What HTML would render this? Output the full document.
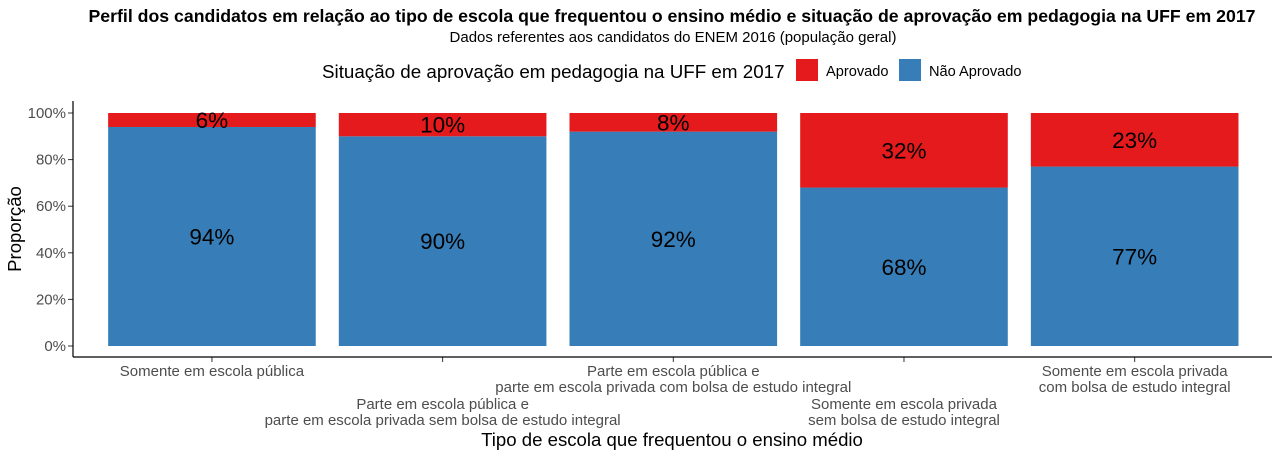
<!DOCTYPE html>
<html><head><meta charset="utf-8"><style>
body{margin:0;background:#fff;}
svg{display:block;font-family:"Liberation Sans",Arial,sans-serif;}
</style></head><body>
<svg id="chart" width="1280" height="457" viewBox="0 0 1280 457">
<text x="672" y="22" text-anchor="middle" font-size="17.5" font-weight="bold" fill="#000" textLength="1167" lengthAdjust="spacingAndGlyphs">Perfil dos candidatos em relação ao tipo de escola que frequentou o ensino médio e situação de aprovação em pedagogia na UFF em 2017</text>
<text x="673" y="42" text-anchor="middle" font-size="15" fill="#000">Dados referentes aos candidatos do ENEM 2016 (população geral)</text>
<g>
<text x="322" y="78" font-size="18.8" fill="#000">Situação de aprovação em pedagogia na UFF em 2017</text>
<rect x="796" y="59" width="22" height="22" fill="#E41A1C"/>
<text x="826" y="76" font-size="14.6" fill="#000">Aprovado</text>
<rect x="899" y="59" width="22" height="22" fill="#377EB8"/>
<text x="929" y="76" font-size="14.6" fill="#000">Não Aprovado</text>
</g>
<g id="plot"></g>
<text x="672" y="446" text-anchor="middle" font-size="18.6" fill="#000">Tipo de escola que frequentou o ensino médio</text>
<text transform="translate(21,229) rotate(-90)" text-anchor="middle" font-size="18.6" fill="#000">Proporção</text>
</svg>
<script>
const categories=[["Somente em escola pública"],["Parte em escola pública e","parte em escola privada sem bolsa de estudo integral"],["Parte em escola pública e","parte em escola privada com bolsa de estudo integral"],["Somente em escola privada","sem bolsa de estudo integral"],["Somente em escola privada","com bolsa de estudo integral"]];
const naoAprovado=[94,90,92,68,77];
const aprovado=[6,10,8,32,23];
const yTicks=[0,20,40,60,80,100];
const NS="http://www.w3.org/2000/svg";
const g=document.getElementById('plot');
const bx0=96.6,bx1=1250,y0=346,y100=113;
const band=(bx1-bx0)/categories.length;
const bw=band*0.9;
const y=v=>y0-(y0-y100)*v/100;
const xc=i=>bx0+band*(i+0.5);
function mk(t,a){const e=document.createElementNS(NS,t);for(const k in a)e.setAttribute(k,a[k]);g.appendChild(e);return e;}
yTicks.forEach(t=>{
 const l=mk('line',{x1:68,x2:73,y1:y(t),y2:y(t),stroke:'#333'});
 
 
 const tx=mk('text',{x:66,y:y(t)+5,'text-anchor':'end','font-size':15,fill:'#4d4d4d'});
 tx.textContent=t+'%';
 
 
});
categories.forEach((c,i)=>{
 const tot=naoAprovado[i]+aprovado[i];
 const nb=naoAprovado[i]/tot*100;
 const b=mk('rect',{x:xc(i)-bw/2,y:y(nb),width:bw,height:y(0)-y(nb),fill:'#377EB8'});
 
 
 const r=mk('rect',{x:xc(i)-bw/2,y:y(100),width:bw,height:y(nb)-y(100),fill:'#E41A1C'});
 
 
 const t1=mk('text',{x:xc(i),y:y(nb/2)+8,'text-anchor':'middle','font-size':22.5,fill:'#000'});
 t1.textContent=naoAprovado[i]+'%';
 
 
 const t2=mk('text',{x:xc(i),y:y(nb+(100-nb)/2)+8,'text-anchor':'middle','font-size':22.5,fill:'#000'});
 t2.textContent=aprovado[i]+'%';
 
 
 const tk=mk('line',{x1:xc(i),x2:xc(i),y1:357,y2:362,stroke:'#333'});
 
 
 const base=(i%2===0)?376:409;
 c.forEach((ln,j)=>{
  const t=mk('text',{x:xc(i),y:base+j*16,'text-anchor':'middle','font-size':15,fill:'#4d4d4d'});
  t.textContent=ln;
  
  
 });
});
const ya=mk('line',{x1:73,x2:73,y1:101,y2:357,stroke:'#000','stroke-width':1.2});


const xa=mk('line',{x1:73,x2:1272,y1:357,y2:357,stroke:'#000','stroke-width':1.2});


</script>
</body></html>
